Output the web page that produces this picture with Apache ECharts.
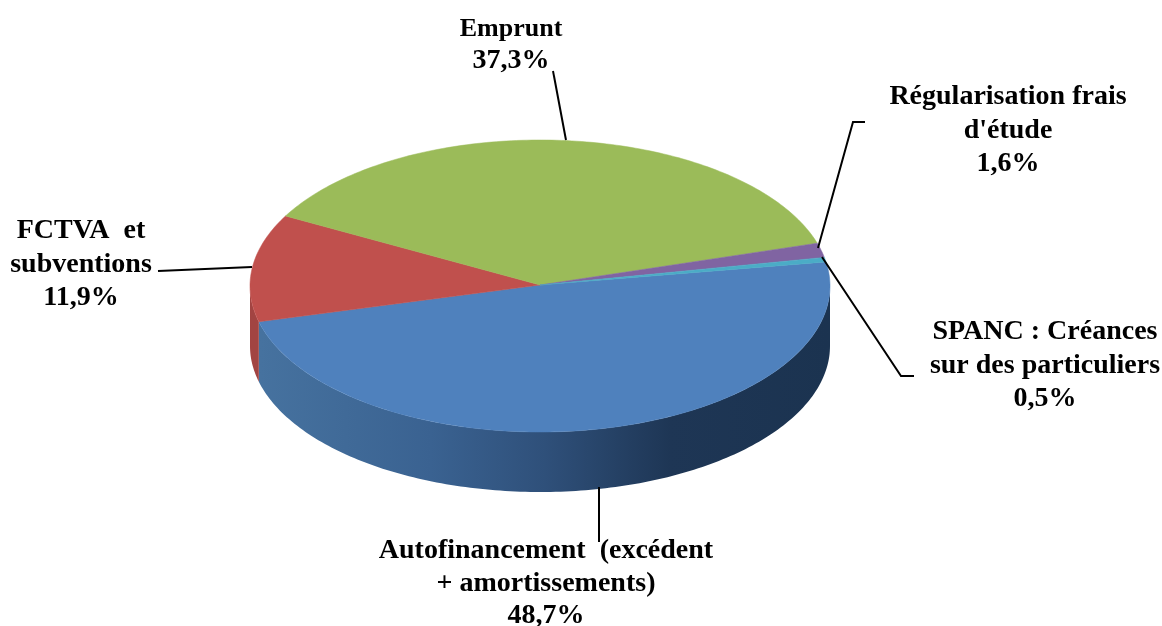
<!DOCTYPE html>
<html><head><meta charset="utf-8">
<style>html,body{margin:0;padding:0;background:#fff}#c{width:1162px;height:626px}</style>
<script src="https://cdn.jsdelivr.net/npm/echarts@6/dist/echarts.min.js"></script>
</head><body><div id="c"></div>
<script>
var categories = ['Autofinancement (excédent + amortissements)', 'FCTVA et subventions', 'Emprunt', 'Régularisation frais d\'étude', 'SPANC : Créances sur des particuliers'];
var shares = [48.7, 11.9, 37.3, 1.6, 0.5];
var colors = ['#4f81bd', '#c0504d', '#9bbb59', '#8064a2', '#4bacc6'];
var wallColors = [null, '#a24442', '#84a04b', '#6d5589', '#3f92a8'];

var cx = 540, cy = 286, rx = 290, ry = 146, depth = 60, startAngle = -9.5;
function pt(deg, dy) {
  var a = deg * Math.PI / 180;
  return [cx + rx * Math.cos(a), cy + ry * Math.sin(a) + (dy || 0)];
}
function arc(from, to, dy) {
  var out = [], n = Math.max(2, Math.ceil(Math.abs(to - from)));
  for (var i = 0; i <= n; i++) out.push(pt(from + (to - from) * i / n, dy));
  return out;
}
var total = shares.reduce(function (a, b) { return a + b; }, 0);
var bluePaint = new echarts.graphic.LinearGradient(260, 0, 830, 0, [
  { offset: 0, color: '#46729f' }, { offset: 0.3, color: '#3a6291' },
  { offset: 0.5, color: '#2f507a' }, { offset: 0.72, color: '#1e3655' },
  { offset: 1, color: '#1b3350' }], true);

function renderSlice(params, api) {
  var i = params.dataIndex, before = 0;
  for (var k = 0; k < i; k++) before += shares[k];
  var from = startAngle + before / total * 360;
  var to = from + api.value(0) / total * 360;
  var children = [];
  var wFrom = Math.max(from, 0), wTo = Math.min(to, 180);
  if (wTo > wFrom) {
    children.push({
      type: 'polygon',
      shape: { points: arc(wFrom, wTo, 0).concat(arc(wTo, wFrom, depth)) },
      style: { fill: i === 0 ? bluePaint : wallColors[i] }
    });
  }
  children.push({
    type: 'polygon',
    shape: { points: [[cx, cy - 1]].concat(arc(from, to, 0)) },
    style: { fill: colors[i], stroke: colors[i], lineWidth: 0.5 }
  });
  return { type: 'group', children: children };
}

var labels = [
  { x: 81,   y: 231, lines: ['FCTVA  et', 'subventions', '11,9%'], gap: 33.5, size: [28, 28, 28] },
  { x: 511,  y: 29,  lines: ['Emprunt', '37,3%'], gap: 32, size: [26, 28] },
  { x: 1008, y: 97,  lines: ['Régularisation frais', 'd\'étude', '1,6%'], gap: 33.5, size: [28, 28, 28] },
  { x: 1045, y: 332, lines: ['SPANC : Créances', 'sur des particuliers', '0,5%'], gap: 33.5, size: [28, 28, 28] },
  { x: 546,  y: 551, lines: ['Autofinancement  (excédent', '+ amortissements)', '48,7%'], gap: 32.5, size: [28, 28, 28] }
];
var leaders = [
  [[158, 271], [252, 267]],
  [[553, 71], [566, 140]],
  [[865, 122], [853, 122], [818, 248]],
  [[822, 257], [901, 376], [914, 376]],
  [[599, 487], [599, 542]]
];
var graphics = [];
leaders.forEach(function (p) {
  graphics.push({ type: 'polyline', z: 20, shape: { points: p }, style: { stroke: '#000', lineWidth: 2, fill: null } });
});
labels.forEach(function (l) {
  l.lines.forEach(function (t, j) {
    graphics.push({ type: 'text', z: 21, x: l.x, y: l.y + j * l.gap, style: {
      text: t, x: 0, y: 0, align: 'center', verticalAlign: 'middle', fill: '#000',
      font: 'bold ' + l.size[j] + 'px "Liberation Serif", "Times New Roman", serif' } });
  });
});

var chart = echarts.init(document.getElementById('c'), null, { renderer: 'canvas' });
chart.setOption({
  animation: false,
  backgroundColor: '#fff',
  series: [{
    type: 'custom',
    coordinateSystem: 'none',
    renderItem: renderSlice,
    data: shares.map(function (v, i) { return { name: categories[i], value: [v] }; }),
    silent: true
  }],
  graphic: graphics
});
</script></body></html>
